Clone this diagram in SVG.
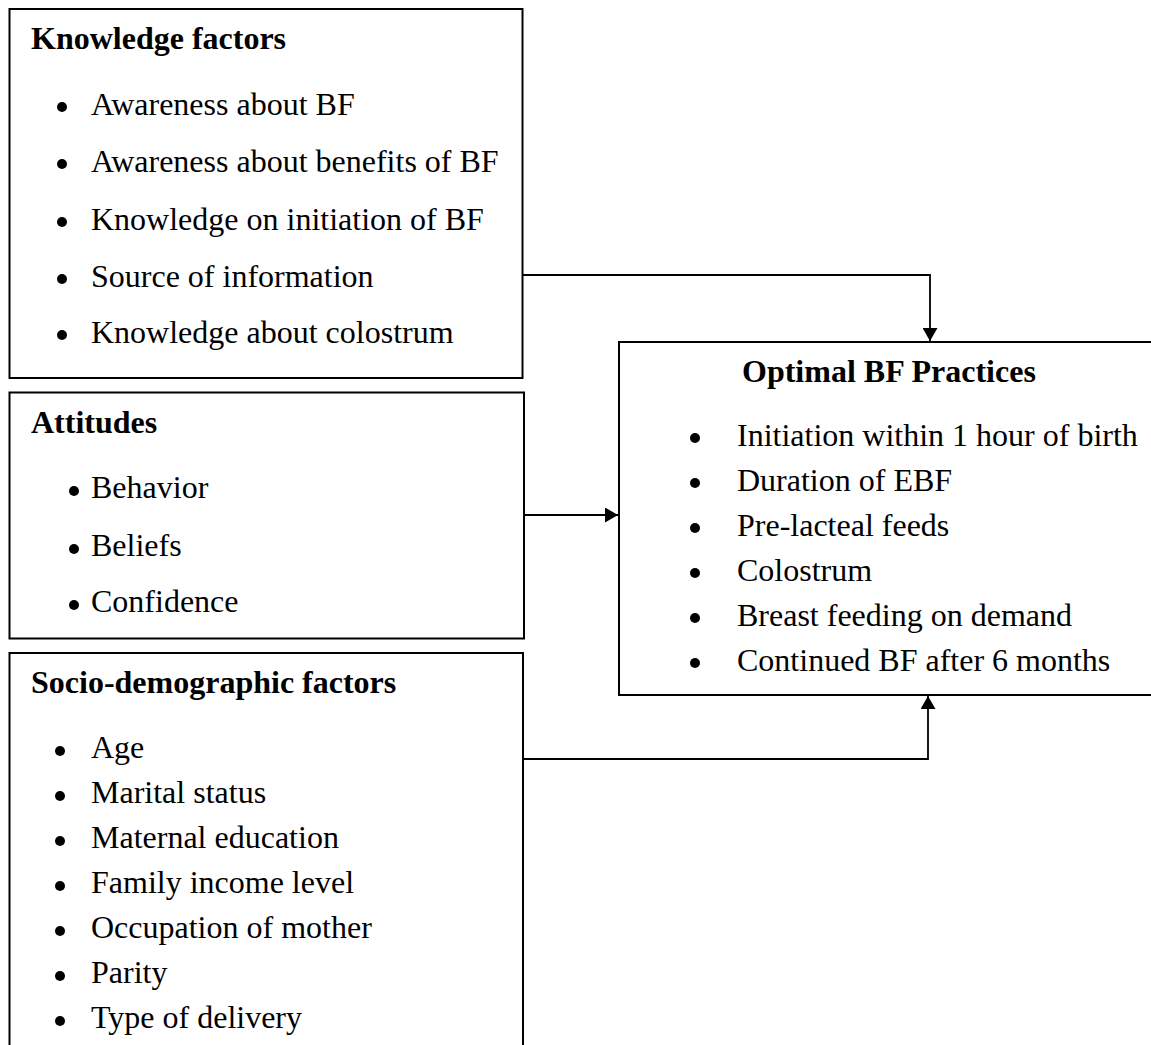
<svg xmlns="http://www.w3.org/2000/svg" width="1151" height="1045" viewBox="0 0 1151 1045">
<style>
.box{fill:#fff;stroke:#000;stroke-width:2}
.conn{fill:none;stroke:#000;stroke-width:1.8}
.t{font-family:"Liberation Serif","Times New Roman",serif;font-size:32px;fill:#000}
.h{font-family:"Liberation Serif","Times New Roman",serif;font-size:32px;font-weight:bold;fill:#000}
.b{fill:#000}
</style>
<defs>
<marker id="arr" viewBox="0 0 13 15" refX="13" refY="7.5" markerWidth="13" markerHeight="15" markerUnits="userSpaceOnUse" orient="auto">
<path d="M0,0 L13,7.5 L0,15 Z" fill="#000"/>
</marker>
</defs>
<rect width="1151" height="1045" fill="#fff"/>
<g id="knowledge">
<rect class="box" x="9.5" y="9" width="513" height="369"/>
<text class="h" x="31" y="49">Knowledge factors</text>
<circle class="b" cx="62" cy="107" r="5"/><text class="t" x="91" y="115">Awareness about BF</text>
<circle class="b" cx="62" cy="164" r="5"/><text class="t" x="91" y="172">Awareness about benefits of BF</text>
<circle class="b" cx="62" cy="222" r="5"/><text class="t" x="91" y="230">Knowledge on initiation of BF</text>
<circle class="b" cx="62" cy="279" r="5"/><text class="t" x="91" y="287">Source of information</text>
<circle class="b" cx="62" cy="335" r="5"/><text class="t" x="91" y="343">Knowledge about colostrum</text>
</g>
<g id="attitudes">
<rect class="box" x="9.5" y="392.5" width="514.5" height="246"/>
<text class="h" x="31" y="433">Attitudes</text>
<circle class="b" cx="74" cy="491" r="5"/><text class="t" x="91" y="498">Behavior</text>
<circle class="b" cx="74" cy="549" r="5"/><text class="t" x="91" y="556">Beliefs</text>
<circle class="b" cx="74" cy="605" r="5"/><text class="t" x="91" y="612">Confidence</text>
</g>
<g id="socio">
<rect class="box" x="9.5" y="653" width="513.5" height="420"/>
<text class="h" x="31" y="693">Socio-demographic factors</text>
<circle class="b" cx="60" cy="751" r="5"/><text class="t" x="91" y="758">Age</text>
<circle class="b" cx="60" cy="796" r="5"/><text class="t" x="91" y="803">Marital status</text>
<circle class="b" cx="60" cy="841" r="5"/><text class="t" x="91" y="848">Maternal education</text>
<circle class="b" cx="60" cy="886" r="5"/><text class="t" x="91" y="893">Family income level</text>
<circle class="b" cx="60" cy="931" r="5"/><text class="t" x="91" y="938">Occupation of mother</text>
<circle class="b" cx="60" cy="976" r="5"/><text class="t" x="91" y="983">Parity</text>
<circle class="b" cx="60" cy="1021" r="5"/><text class="t" x="91" y="1028">Type of delivery</text>
</g>
<g id="optimal">
<rect class="box" x="619" y="342" width="560" height="353"/>
<text class="h" x="742" y="382">Optimal BF Practices</text>
<circle class="b" cx="695" cy="438" r="5"/><text class="t" x="737" y="446">Initiation within 1 hour of birth</text>
<circle class="b" cx="695" cy="483" r="5"/><text class="t" x="737" y="491">Duration of EBF</text>
<circle class="b" cx="695" cy="528" r="5"/><text class="t" x="737" y="536">Pre-lacteal feeds</text>
<circle class="b" cx="695" cy="573" r="5"/><text class="t" x="737" y="581">Colostrum</text>
<circle class="b" cx="695" cy="618" r="5"/><text class="t" x="737" y="626">Breast feeding on demand</text>
<circle class="b" cx="695" cy="663" r="5"/><text class="t" x="737" y="671">Continued BF after 6 months</text>
</g>
<g id="connectors">
<path class="conn" d="M522,275 H930 V341" marker-end="url(#arr)"/>
<path class="conn" d="M524,515 H618" marker-end="url(#arr)"/>
<path class="conn" d="M523,759 H928 V696" marker-end="url(#arr)"/>
</g>
</svg>
